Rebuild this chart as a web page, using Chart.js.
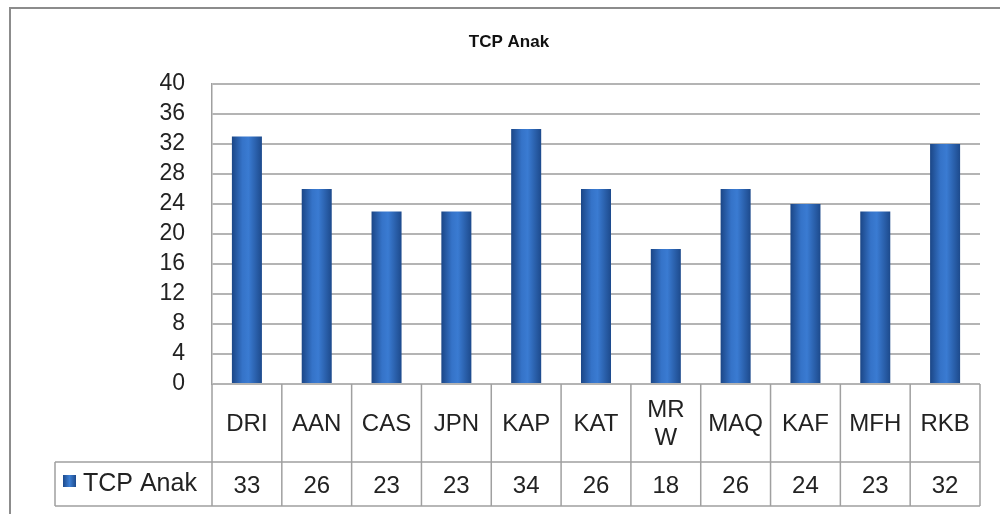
<!DOCTYPE html>
<html>
<head>
<meta charset="utf-8">
<script src="https://cdn.jsdelivr.net/npm/chart.js@4"></script>
<style>
  html, body { margin: 0; padding: 0; background: #fff; }
  #wrap { width: 1000px; height: 514px; }
</style>
</head>
<body>
<div id="wrap"><canvas id="myChart1" width="1000" height="514"></canvas></div>
<script>
// data ========================================================
const categories = ["DRI", "AAN", "CAS", "JPN", "KAP", "KAT", ["MR", "W"], "MAQ", "KAF", "MFH", "RKB"];
const seriesName = "TCP Anak";
const tcpAnak = [33, 26, 23, 23, 34, 26, 18, 26, 24, 23, 32];
const yTicks = [0, 4, 8, 12, 16, 20, 24, 28, 32, 36, 40];

const FONT = "'Liberation Sans', Arial, sans-serif";
const BAR_FRAC = 0.43;

// bar fill: dark edges, lighter middle
function barFill(ctx) {
  const chart = ctx.chart;
  const xs = chart.scales.x;
  if (!xs || ctx.dataIndex === undefined) return "#2f68b8";
  const c = xs.getPixelForValue(ctx.dataIndex);
  const half = (xs.width / categories.length) * BAR_FRAC / 2;
  if (!isFinite(c) || !isFinite(half) || half <= 0) return "#2f68b8";
  const g = chart.ctx.createLinearGradient(c - half, 0, c + half, 0);
  g.addColorStop(0, "#1b4686");
  g.addColorStop(0.35, "#3573c8");
  g.addColorStop(0.55, "#3a7bd2");
  g.addColorStop(1, "#1d4a8c");
  return g;
}

// border, title, data table
const tablePlugin = {
  id: "tablePlugin",
  afterDraw(chart) {
    const ctx = chart.ctx;
    const xs = chart.scales.x;
    const area = chart.chartArea;
    const n = categories.length;
    const step = xs.width / n;
    const top = area.bottom, mid = 462, bot = 506, legL = 55;

    ctx.save();
    // outer frame
    ctx.strokeStyle = "#8c8c8c";
    ctx.lineWidth = 2;
    ctx.strokeRect(10, 8, 1000, 520);

    // title
    ctx.fillStyle = "#111";
    ctx.font = "bold 17px " + FONT;
    ctx.textAlign = "center";
    ctx.textBaseline = "middle";
    ctx.fillText(seriesName, 509, 42);

    // table grid
    ctx.strokeStyle = "#a0a0a0";
    ctx.lineWidth = 1.5;
    ctx.beginPath();
    ctx.moveTo(area.left, mid); ctx.lineTo(area.right, mid);
    ctx.moveTo(legL, mid); ctx.lineTo(area.left, mid);
    ctx.moveTo(legL, bot); ctx.lineTo(area.right, bot);
    ctx.moveTo(legL, mid); ctx.lineTo(legL, bot);
    for (let i = 0; i <= n; i++) {
      const x = area.left + i * step;
      ctx.moveTo(x, top); ctx.lineTo(x, bot);
    }
    ctx.stroke();

    // category labels and values
    ctx.fillStyle = "#222";
    ctx.font = "24px " + FONT;
    for (let i = 0; i < n; i++) {
      const x = xs.getPixelForValue(i);
      const lab = categories[i];
      if (Array.isArray(lab)) {
        ctx.fillText(lab[0], x, 410);
        ctx.fillText(lab[1], x, 438);
      } else {
        ctx.fillText(lab, x, 424);
      }
      ctx.fillText(String(tcpAnak[i]), x, 486);
    }

    // legend key
    const g = ctx.createLinearGradient(63, 0, 76, 0);
    g.addColorStop(0, "#1d4a8c"); g.addColorStop(0.5, "#3d7fd4"); g.addColorStop(1, "#1d4a8c");
    ctx.fillStyle = g;
    ctx.fillRect(63, 475, 13, 12);
    ctx.fillStyle = "#222";
    ctx.textAlign = "left";
    ctx.font = "25px " + FONT;
    ctx.fillText(seriesName, 83, 484);
    ctx.restore();
  }
};

const config = {
  type: "bar",
  data: {
    labels: categories,
    datasets: [
      {
        label: seriesName,
        data: tcpAnak,
        backgroundColor: barFill,
        borderWidth: 0,
        categoryPercentage: 1,
        barPercentage: BAR_FRAC,
      },
    ],
  },
  options: {
    responsive: false,
    animation: false,
    layout: { padding: { top: 84, right: 20, bottom: 130, left: 0 } },
    plugins: {
      legend: { display: false },
      tooltip: { enabled: false },
    },
    scales: {
      x: {
        ticks: { display: false },
        grid: { display: false, drawTicks: false },
        border: { display: false },
      },
      y: {
        min: 0,
        max: 40,
        afterFit: (s) => { s.width = 212; },
        afterBuildTicks: (s) => { s.ticks = yTicks.map((v) => ({ value: v })); },
        ticks: {
          autoSkip: false,
          padding: 27,
          color: "#222",
          font: { size: 23, family: FONT, lineHeight: 1 },
        },
        grid: { color: "#b4b4b4", lineWidth: 2, drawTicks: false },
        border: { display: true, color: "#a0a0a0", width: 1.5 },
      },
    },
  },
  plugins: [tablePlugin],
};

const myChart = new Chart(document.getElementById("myChart1"), config);
</script>
</body>
</html>
